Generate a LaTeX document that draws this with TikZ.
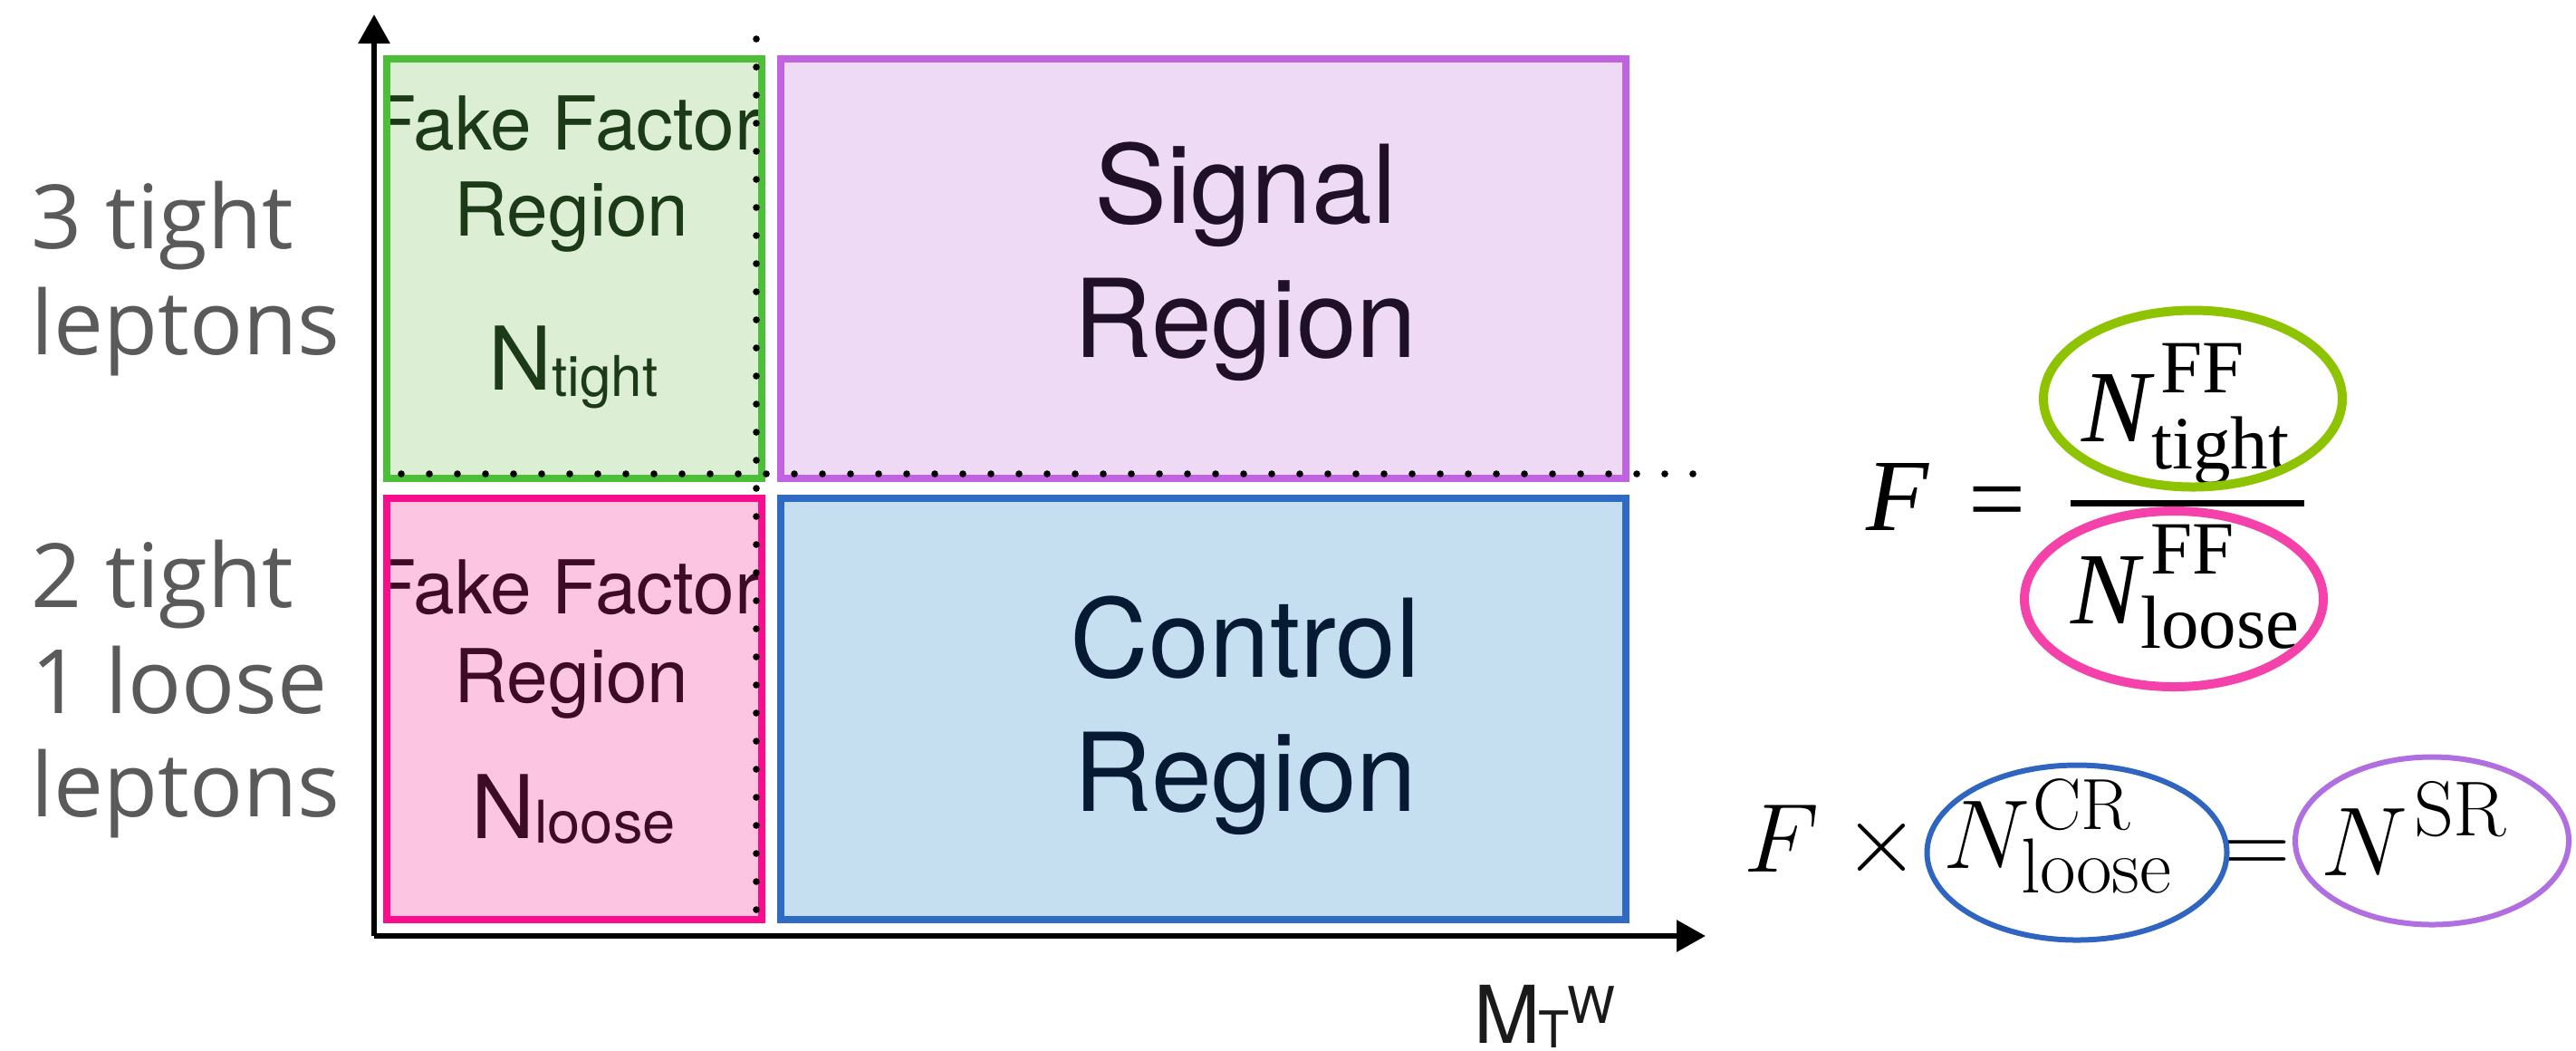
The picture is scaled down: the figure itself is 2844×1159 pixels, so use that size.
\RequirePackage{fix-cm}
\documentclass[tikz,border=0pt]{standalone}
\usepackage{fontspec}
\usetikzlibrary{arrows.meta,shapes.geometric}

\newfontfamily\helv{TeX Gyre Heros}
\newfontfamily\opensans{Open Sans}
\newfontfamily\timesf{Liberation Serif}
\newcommand\setfs[1]{\fontsize{#1}{#1}\selectfont}

\definecolor{ffgreen}{HTML}{4BBF38}
\definecolor{ffgreenfill}{HTML}{DCEFD5}
\definecolor{ffgreentext}{HTML}{1C3A17}
\definecolor{ffpink}{HTML}{F90D8C}
\definecolor{ffpinkfill}{HTML}{FCC6E3}
\definecolor{ffpinktext}{HTML}{3D0B25}
\definecolor{srpurple}{HTML}{C163E0}
\definecolor{srfill}{HTML}{EEDAF4}
\definecolor{srtext}{HTML}{1F1028}
\definecolor{crblue}{HTML}{2F6AC3}
\definecolor{crfill}{HTML}{C5DFF1}
\definecolor{crtext}{HTML}{071A33}
\definecolor{labelgrey}{HTML}{5A5A5A}
\definecolor{axistext}{HTML}{1A1A1A}
\definecolor{ellgreen}{HTML}{8DC300}
\definecolor{ellpink}{HTML}{F542AA}
\definecolor{ellblue}{HTML}{2F65C0}
\definecolor{ellpurple}{HTML}{B06EE0}

\tikzset{
  txt/.style={inner sep=0pt, outer sep=0pt, anchor=base},
  txtl/.style={inner sep=0pt, outer sep=0pt, anchor=base west},
  boxtext/.style={txt, font=\helv\setfs{20.5pt}},
  bigtext/.style={txt, font=\helv\setfs{30pt}},
  sidelabel/.style={txtl, font=\opensans\setfs{24.5pt}, text=labelgrey},
  regionborder/.style={line width=2pt},
  axis/.style={line width=1.5pt, -{Triangle[length=8pt,width=8.5pt]}},
  dotline/.style={line width=1.9pt, line cap=round, dash pattern=on 0pt off 7.75pt},
  ring/.style={ellipse, inner sep=0pt, outer sep=0pt},
}

\begin{document}
\begin{tikzpicture}[x=0.25pt, y=-0.25pt]
\useasboundingbox (0,0) rectangle (2844,1159);
\fill[white] (0,0) rectangle (2844,1159);

% ---- region fills
\fill[ffgreenfill] (427,65)  rectangle (841,528);
\fill[srfill]      (862,65)  rectangle (1795,528);
\fill[ffpinkfill]  (427,550) rectangle (841,1015);
\fill[crfill]      (862,550) rectangle (1795,1015);

% ---- region texts (clipped to their boxes; the borders are drawn over them)
\begin{scope}[text=ffgreentext]
  \clip (423,61) rectangle (845,532);
  \node[boxtext] (gff1) at (624,165) {Fake Factor};
  \node[boxtext] (gff2) at (631,260) {Region};
  \node[txt] (gffn) at (633,430) {{\helv\setfs{24.25pt}N}{\helv\setfs{15.5pt}\raisebox{-1.75pt}{tight}}};
\end{scope}
\begin{scope}[text=ffpinktext]
  \clip (423,546) rectangle (845,1019);
  \node[boxtext] (pff1) at (624,677) {Fake Factor};
  \node[boxtext] (pff2) at (631,775) {Region};
  \node[txt] (pffn) at (633,925) {{\helv\setfs{24.25pt}N}{\helv\setfs{16.25pt}\raisebox{-1.25pt}{loose}}};
\end{scope}
\node[bigtext, text=srtext] (sr1) at (1375,246) {Signal};
\node[bigtext, text=srtext] (sr2) at (1375,394) {Region};
\node[bigtext, text=crtext] (cr1) at (1375,747) {Control};
\node[bigtext, text=crtext] (cr2) at (1375,895) {Region};

% ---- region borders
\draw[regionborder, ffgreen]  (427,65)  rectangle (841,528);
\draw[regionborder, srpurple] (862,65)  rectangle (1795,528);
\draw[regionborder, ffpink]   (427,550) rectangle (841,1015);
\draw[regionborder, crblue]   (862,550) rectangle (1795,1015);

% ---- dotted cut lines
\coordinate (vcutT) at (835,43);
\coordinate (vcutB) at (835,1010);
\coordinate (hcutL) at (443,523);
\coordinate (hcutR) at (1877,523);
\draw[dotline] (vcutT) -- (vcutB);
\draw[dotline] (hcutL) -- (hcutR);

% ---- axes
\coordinate (O) at (413,1033);
\coordinate (ytip) at (413,16);
\coordinate (xtip) at (1883,1033);
\draw[axis] (O) -- (ytip);
\draw[axis] (O) -- (xtip);

% axis label
\begin{scope}[text=axistext]
  \node[txtl, font=\helv\setfs{22pt}] (mt) at (1627,1151) {M};
  \node[txtl, font=\helv\setfs{14pt}] (mtsub) at (1698,1156) {T};
  \node[txtl, font=\helv\setfs{14pt}] (mtsup) at (1730,1129) {W};
\end{scope}

% ---- lepton selections
\node[sidelabel] (l1) at (35,274) {3 tight};
\node[sidelabel] (l2) at (35,391) {leptons};
\node[sidelabel] (l3) at (35,670) {2 tight};
\node[sidelabel] (l4) at (35,787) {1 loose};
\node[sidelabel] (l5) at (35,901) {leptons};

% ---- fake factor definition
\node[txtl, font=\timesf\itshape\setfs{28.25pt}] (fF) at (2060,585) {F};
\node[txt, font=\timesf\setfs{28pt}] (feq) at (2205,588) {=};
\coordinate (barL) at (2286,555);
\coordinate (barR) at (2544,555);
\draw[line width=1.75pt] (barL) -- (barR);
\node[txtl, font=\timesf\itshape\setfs{28.25pt}] (numN) at (2298,487) {N};
\node[txtl, font=\timesf\setfs{20.75pt}] (numsup) at (2385,433) {FF};
\node[txtl, font=\timesf\setfs{20.75pt}] (numsub) at (2375,517) {tight};
\node[txtl, font=\timesf\itshape\setfs{28.25pt}] (denN) at (2286,688) {N};
\node[txtl, font=\timesf\setfs{20.75pt}] (densup) at (2374,633) {FF};
\node[txtl, font=\timesf\setfs{20.75pt}] (densub) at (2363,715) {loose};
\node[ring, draw=ellgreen, line width=2.5pt, minimum width=82.5pt, minimum height=48.75pt] (numring) at (2421,440) {};
\node[ring, draw=ellpink, line width=2.5pt, minimum width=82.5pt, minimum height=48.5pt] (denring) at (2400,661) {};

% ---- extrapolation to the signal region
\node[txtl, font=\setfs{27pt}] (eF) at (1925,962) {$F$};
\node[txt, font=\setfs{27pt}] (etimes) at (2077,962) {$\times$};
\node[txtl, font=\setfs{27pt}] (eN) at (2145,958) {$N$};
\node[txtl, font=\setfs{20pt}] (eNsup) at (2244,915) {$\mathrm{CR}$};
\node[txtl, font=\setfs{21.5pt}] (eNsub) at (2231,985) {$\mathrm{loose}$};
\node[txt, font=\setfs{26.5pt}] (eeq) at (2491,965) {$=$};
\node[txtl, font=\setfs{27pt}] (sN) at (2562,966) {$N$};
\node[txtl, font=\setfs{21.5pt}] (sNsup) at (2665,922) {$\mathrm{SR}$};
\node[ring, draw=ellblue, line width=1.5pt, minimum width=82.75pt, minimum height=48.25pt] (crring) at (2293,941) {};
\node[ring, draw=ellpurple, line width=1.5pt, minimum width=75.5pt, minimum height=46.25pt] (srring) at (2685,928) {};
\end{tikzpicture}
\end{document}
